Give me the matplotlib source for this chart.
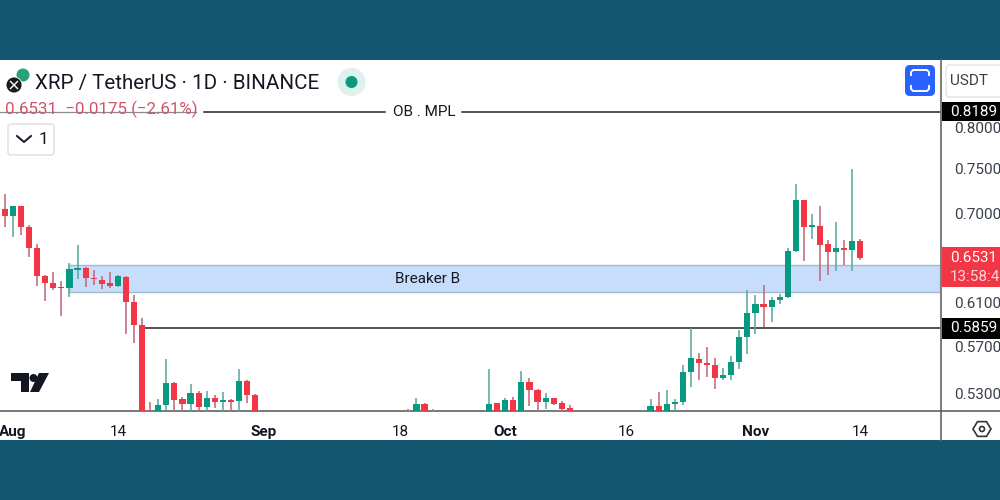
"""XRP / USDT daily candles, redrawn from a phone screenshot."""

import matplotlib

matplotlib.use("Agg")

import matplotlib.pyplot as plt
import numpy as np
from matplotlib.patches import Circle, FancyBboxPatch, Polygon, Rectangle

plt.rcParams["font.family"] = ["Roboto", "DejaVu Sans"]

# days counted from 1 Aug; most of September sits below the visible range
candle_day = [
    -1, 0, 1, 2, 3, 4, 5, 6, 7, 8, 9, 10, 11, 12, 13, 14, 15, 16, 17, 18, 19, 20, 21, 22, 23, 24, 25, 26, 27, 28, 29, 30,
    49, 50, 51, 52, 59, 60, 61, 62, 63, 64, 65, 66, 67, 68, 69,
    79, 80, 81, 82, 83, 84, 85, 86, 87, 88, 89, 90, 91, 92, 93, 94, 95, 96, 97, 98, 99, 100, 101, 102, 103, 104, 105,
]
candle_open = [
    .7049, .6973, .7076, .6853, .6630, .6352, .6287, .6245, .6235, .6414, .6434, .6336, .6316, .6281, .6255, .6342,
    .6105, .5888, .5120, .5100, .5200, .5385, .5249, .5210, .5303, .5186, .5259, .5229, .5241, .5232, .5402, .5284,
    .5120, .5080, .5213, .5080, .5100, .5216, .5100, .5241, .5100, .5391, .5325, .5224, .5257, .5216, .5176,
    .5100, .5194, .5100, .5208, .5227, .5478, .5587, .5555, .5535, .5427, .5447, .5557, .5780, .5995, .6086, .6051,
    .6121, .6149, .6606, .7148, .6850, .6867, .6672, .6593, .6630, .6613, .6703,
]
candle_high = [
    .7209, .7076, .7079, .6874, .6675, .6360, .6388, .6303, .6484, .6664, .6438, .6411, .6352, .6388, .6365, .6349,
    .6168, .5950, .5229, .5249, .5584, .5394, .5265, .5372, .5317, .5319, .5282, .5306, .5249, .5498, .5408, .5290,
    .5168, .5257, .5216, .5170, .5498, .5221, .5259, .5265, .5483, .5425, .5331, .5298, .5262, .5232, .5200,
    .5249, .5311, .5325, .5251, .5535, .5864, .5636, .5694, .5593, .5507, .5613, .5843, .6213, .6166, .6262, .6149,
    .6178, .6630, .7326, .7148, .6995, .7076, .6713, .6902, .6716, .7495, .6727,
]
candle_low = [
    .6856, .6744, .6768, .6545, .6255, .6112, .6216, .5971, .6147, .6320, .6245, .6262, .6229, .6238, .6248, .5804,
    .5724, .5000, .5000, .5050, .5100, .5100, .5140, .5140, .5140, .5140, .5180, .5140, .5140, .5140, .5216, .5100,
    .5050, .5050, .5050, .5050, .5050, .5050, .5050, .5050, .5050, .5197, .5140, .5172, .5200, .5140, .5100,
    .5050, .5050, .5050, .5100, .5202, .5347, .5408, .5431, .5331, .5405, .5408, .5500, .5630, .5810, .5867, .5918,
    .6086, .6142, .6589, .6501, .6730, .6306, .6362, .6404, .6461, .6404, .6511,
]
candle_close = [
    .6973, .7076, .6850, .6630, .6352, .6287, .6235, .6232, .6418, .6431, .6333, .6320, .6277, .6258, .6349, .6102,
    .5888, .5050, .5050, .5202, .5385, .5241, .5210, .5303, .5186, .5259, .5229, .5241, .5229, .5400, .5284, .5120,
    .5100, .5213, .5100, .5110, .5213, .5100, .5241, .5100, .5391, .5325, .5224, .5257, .5213, .5172, .5120,
    .5194, .5100, .5208, .5229, .5478, .5593, .5549, .5535, .5427, .5447, .5563, .5783, .5998, .6086, .6054, .6121,
    .6152, .6606, .7148, .6850, .6874, .6664, .6596, .6630, .6610, .6703, .6531,
]

price_ticks = [0.80, 0.75, 0.70, 0.61, 0.57, 0.53]
date_tick_days = [0, 13, 31, 48, 61, 76, 92, 105]
date_tick_labels = ["Aug", "14", "Sep", "18", "Oct", "16", "Nov", "14"]
month_labels = {"Aug", "Sep", "Oct", "Nov"}

zone_top, zone_bottom = 0.6461, 0.6194
zone_start_day = 7
ob_level = 0.8189
support_level = 0.5859
support_start_day = 16
last_price = 0.6531

GREEN = "#089981"
RED = "#F23645"
GREEN_WICK = "#5aa99c"
RED_WICK = "#c4687a"
BAND = "#14566F"
AXIS_LINE = "#555555"
TEXT = "#131722"

fig = plt.figure(figsize=(10, 5), dpi=100, facecolor=BAND)

# white chart card behind everything
card = fig.add_axes([0, 0.12, 1, 0.76], facecolor="white")
card.set_xticks([])
card.set_yticks([])
for spine in card.spines.values():
    spine.set_visible(False)

ax = fig.add_axes([0, 0.178, 0.94, 0.702], facecolor="white")
ax.set_yscale("log")
ax.set_xlim(-1.61, 114.87)
ax.set_ylim(0.5155, 0.8874)

days = np.array(candle_day)
opens = np.array(candle_open)
highs = np.array(candle_high)
lows = np.array(candle_low)
closes = np.array(candle_close)
rising = closes >= opens

ax.axhspan(zone_bottom, zone_top, xmin=(zone_start_day + 1.61) / 116.48, facecolor="#c8dcfb",
           edgecolor="#9dbccb", lw=1, zorder=1)
ax.plot([support_start_day, 114.87], [support_level, support_level], color="#222222", lw=1.1, zorder=2)
ax.plot([-1.61, 22.7], [ob_level, ob_level], color="#8a8a8a", lw=0.9, zorder=2)
ax.plot([23.7, 46.1], [ob_level, ob_level], color="#222222", lw=1.1, zorder=2)
ax.plot([55.6, 114.87], [ob_level, ob_level], color="#222222", lw=1.1, zorder=2)

ax.vlines(days[rising], lows[rising], highs[rising], color=GREEN_WICK, lw=1.15, zorder=3)
ax.vlines(days[~rising], lows[~rising], highs[~rising], color=RED_WICK, lw=1.15, zorder=3)
ax.bar(days[rising], closes[rising] - opens[rising], bottom=opens[rising], width=0.76, color=GREEN, zorder=4)
ax.bar(days[~rising], opens[~rising] - closes[~rising], bottom=closes[~rising], width=0.76, color=RED, zorder=4)

ax.text(51.4, np.sqrt(zone_top * zone_bottom), "Breaker B", fontsize=11, color=TEXT, ha="center", va="center", zorder=5)
ax.text(50.9, ob_level, "OB . MPL", fontsize=11, color=TEXT, ha="center", va="center", zorder=5)

ax.yaxis.tick_right()
ax.set_yticks(price_ticks)
ax.set_yticklabels([f"{p:.4f}" for p in price_ticks], fontsize=11, color="#3a3f4a")
ax.yaxis.set_minor_locator(matplotlib.ticker.NullLocator())
ax.tick_params(axis="y", length=0, pad=10)
ax.set_xticks(date_tick_days)
ax.set_xticklabels(date_tick_labels, fontsize=11, color=TEXT)
for tick in ax.get_xticklabels():
    if tick.get_text() in month_labels:
        tick.set_fontweight("bold")
ax.tick_params(axis="x", length=0, pad=10)
for name in ("top", "left"):
    ax.spines[name].set_visible(False)
ax.spines["right"].set_visible(False)
ax.spines["bottom"].set_color(AXIS_LINE)
ax.spines["bottom"].set_linewidth(1.1)

# screen furniture, drawn in pixel coordinates
ui = fig.add_axes([0, 0, 1, 1], facecolor="none")
ui.set_xlim(0, 1000)
ui.set_ylim(500, 0)
ui.axis("off")


def price_px(price):
    return 500 - ax.transData.transform((0, price))[1]


ui.plot([941, 941], [60, 440], color="#666666", lw=1.2)
ui.plot([941, 1000], [411, 411], color=AXIS_LINE, lw=1.1)

for price, half, face in [(ob_level, 9.5, "black"), (support_level, 10.5, "black")]:
    y = price_px(price)
    ui.add_patch(Rectangle((942, y - half), 58, half * 2, facecolor=face, edgecolor="none", zorder=5))
    ui.text(950, y, f"{price:.4f}", color="white", fontsize=11, va="center", zorder=6)

y = price_px(last_price)
ui.add_patch(Rectangle((942, y - 11), 58, 39.5, facecolor=RED, edgecolor="none", zorder=5))
ui.text(950, y, f"{last_price:.4f}", color="white", fontsize=11, va="center", zorder=6)
ui.text(950, y + 19, "13:58:4", color="#ffd5da", fontsize=11, va="center", zorder=6)

ui.text(35, 83, "XRP / TetherUS · 1D · BINANCE", fontsize=14.75, color=TEXT, va="center")
ui.text(5, 109, "0.6531  −0.0175 (−2.61%)", fontsize=12.2, color="#cf5468", va="center")

# symbol icon
ui.add_patch(Circle((23, 75), 6.5, facecolor="#26a17b", edgecolor="none"))
ui.add_patch(Circle((14, 85), 8, facecolor="#1b1b1f", edgecolor="white", lw=0.6))
ui.plot([10.5, 17.5], [81.5, 88.5], color="white", lw=1)
ui.plot([10.5, 17.5], [88.5, 81.5], color="white", lw=1)

# market status dot
ui.add_patch(Circle((351.5, 82), 14, facecolor="#dff1ed", edgecolor="none"))
ui.add_patch(Circle((351.5, 82), 6, facecolor=GREEN, edgecolor="none"))

# collapsed indicator box
ui.add_patch(FancyBboxPatch((8, 124), 46, 31, boxstyle="round,pad=0,rounding_size=3", facecolor="white",
                            edgecolor="#dddddd", lw=1))
ui.plot([17, 24, 31], [136, 142, 136], color=TEXT, lw=1.4)
ui.text(43, 139, "1", fontsize=12.5, color=TEXT, ha="center", va="center")

# fullscreen button
ui.add_patch(FancyBboxPatch((905, 65), 30, 31, boxstyle="round,pad=0,rounding_size=5", facecolor="#2962FF",
                            edgecolor="none"))
ui.plot([911, 911, 913, 927, 929, 929], [75, 72, 70, 70, 72, 75], color="white", lw=1.4)
ui.plot([911, 911, 913, 927, 929, 929], [86, 89, 91, 91, 89, 86], color="white", lw=1.4)

# currency button
ui.add_patch(FancyBboxPatch((946, 65), 60, 32, boxstyle="round,pad=0,rounding_size=4", facecolor="white",
                            edgecolor="#e4e4e4", lw=1))
ui.text(950, 81, "USDT", fontsize=11, color="#3a3f4a", va="center")

# TradingView mark
ui.add_patch(Polygon([(11, 373), (29, 373), (29, 392), (21, 392), (21, 381), (11, 381)], facecolor="#131722",
                     edgecolor="none"))
ui.add_patch(Circle((33.5, 378), 4, facecolor="#131722", edgecolor="none"))
ui.add_patch(Polygon([(39, 373), (49, 373), (39, 392), (30, 392)], facecolor="#131722", edgecolor="none"))

# settings hexagon
angles = np.deg2rad(np.arange(0, 360, 60))
ui.add_patch(Polygon(np.column_stack([982 + 9 * np.cos(angles), 429 + 8.5 * np.sin(angles)]), facecolor="none",
                     edgecolor="#333333", lw=1.2))
ui.add_patch(Circle((982, 429), 2.5, facecolor="none", edgecolor="#333333", lw=1.2))

fig.savefig("out.png", dpi=100, facecolor=BAND)
